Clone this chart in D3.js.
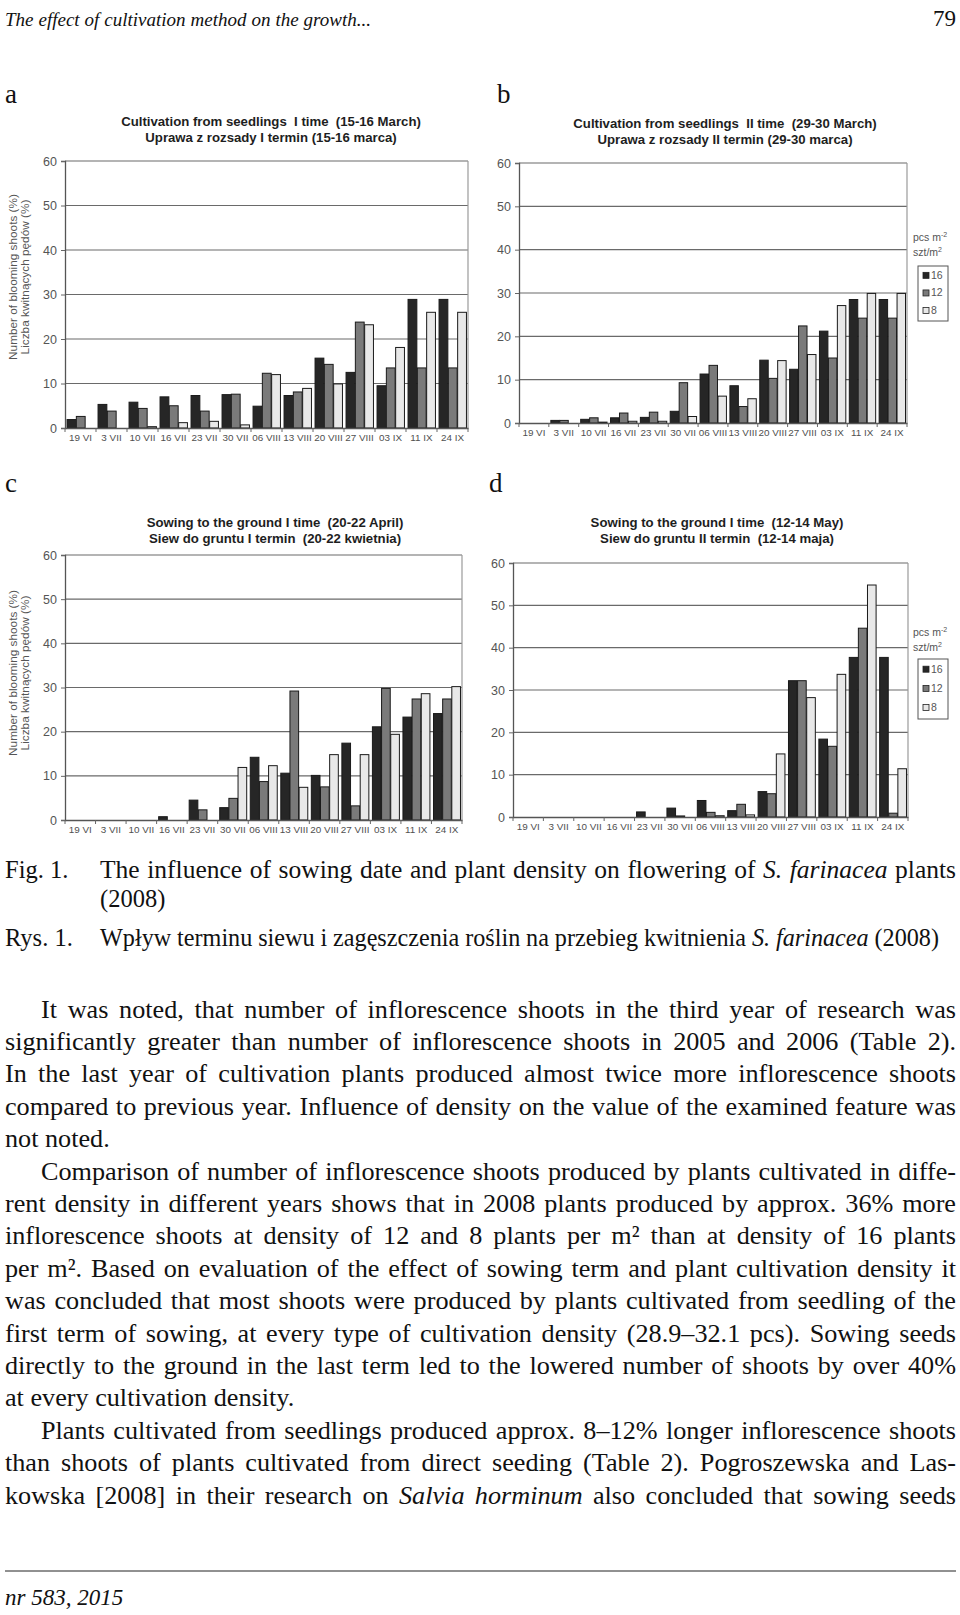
<!DOCTYPE html>
<html><head><meta charset="utf-8">
<script src="https://cdn.jsdelivr.net/npm/d3@7/dist/d3.min.js"></script>
<style>body{margin:0;background:#fff}</style>
</head><body><svg id="page" width="960" height="1615"></svg>
<script>
// ---------- DATA ----------
const dates = ["19 VI","3 VII","10 VII","16 VII","23 VII","30 VII","06 VIII","13 VIII","20 VIII","27 VIII","03 IX","11 IX","24 IX"];
const densities = ["16","12","8"];
const yTicks = [0,10,20,30,40,50,60];

const aD16 = [1.9,5.3,5.8,7.0,7.3,7.5,4.9,7.3,15.7,12.5,9.5,28.9,28.9];
const aD12 = [2.6,3.8,4.4,5.0,3.8,7.6,12.3,8.1,14.3,23.8,13.5,13.5,13.5];
const aD8  = [0,0,0.3,1.2,1.5,0.7,12.0,8.9,9.9,23.2,18.1,26.0,26.0];

const bD16 = [0,0.6,0.85,1.2,1.3,2.7,11.3,8.6,14.5,12.4,21.2,28.5,28.5];
const bD12 = [0,0.6,1.2,2.3,2.5,9.3,13.3,3.8,10.3,22.4,15.0,24.2,24.2];
const bD8  = [0,0,0.2,0.4,0.4,1.5,6.2,5.6,14.4,15.8,27.1,29.9,29.9];

const cD16 = [0,0,0,0.75,4.5,2.8,14.2,10.6,10.1,17.4,21.1,23.3,24.1];
const cD12 = [0,0,0,0,2.3,4.9,8.7,29.2,7.5,3.2,29.8,27.4,27.4];
const cD8  = [0,0,0,0,0,11.9,12.3,7.4,14.8,14.8,19.4,28.6,30.2];

const dD16 = [0,0,0,0,1.2,2.1,3.9,1.5,6.0,32.2,18.4,37.7,37.7];
const dD12 = [0,0,0,0,0,0.25,1.1,3.0,5.5,32.2,16.7,44.6,0.9];
const dD8  = [0,0,0,0,0,0,0.3,0.5,14.9,28.2,33.7,54.8,11.4];

const titleA = ["Cultivation from seedlings  I time  (15-16 March)","Uprawa z rozsady I termin (15-16 marca)"];
const titleB = ["Cultivation from seedlings  II time  (29-30 March)","Uprawa z rozsady II termin (29-30 marca)"];
const titleC = ["Sowing to the ground I time  (20-22 April)","Siew do gruntu I termin  (20-22 kwietnia)"];
const titleD = ["Sowing to the ground I time  (12-14 May)","Siew do gruntu II termin  (12-14 maja)"];
const yTitle = ["Number of blooming shoots (%)","Liczba kwitnących pędów (%)"];

const headerText = "The effect of cultivation method on the growth...";
const pageNo = "79";
const footerText = "nr 583, 2015";

const bodyLines = [
 {x:41, t:"It was noted, that number of inflorescence shoots in the third year of research was"},
 {x:5, t:"significantly greater than number of inflorescence shoots in 2005 and 2006 (Table 2)."},
 {x:5, t:"In the last year of cultivation plants produced almost twice more inflorescence shoots"},
 {x:5, t:"compared to previous year. Influence of density on the value of the examined feature was"},
 {x:5, t:"not noted.", last:true},
 {x:41, t:"Comparison of number of inflorescence shoots produced by plants cultivated in diffe-"},
 {x:5, t:"rent density in different years shows that in 2008 plants produced by approx. 36% more"},
 {x:5, t:"inflorescence shoots at density of 12 and 8 plants per m² than at density of 16 plants"},
 {x:5, t:"per m². Based on evaluation of the effect of sowing term and plant cultivation density it"},
 {x:5, t:"was concluded that most shoots were produced by plants cultivated from seedling of the"},
 {x:5, t:"first term of sowing, at every type of cultivation density (28.9–32.1 pcs). Sowing seeds"},
 {x:5, t:"directly to the ground in the last term led to the lowered number of shoots by over 40%"},
 {x:5, t:"at every cultivation density.", last:true},
 {x:41, t:"Plants cultivated from seedlings produced approx. 8–12% longer inflorescence shoots"},
 {x:5, t:"than shoots of plants cultivated from direct seeding (Table 2). Pogroszewska and Las-"},
 {x:5, t:"kowska [2008] in their research on |Salvia horminum| also concluded that sowing seeds"}
];

// ---------- DRAW ----------
const svg = d3.select("#page");
svg.append("rect").attr("width",960).attr("height",1615).attr("fill","#fff");
const sans = "Liberation Sans, Arial, sans-serif";
const serif = "Liberation Serif, Times New Roman, serif";
const fills = ["#262626","#7a7a7a","#e8e8e8"];

// text with italic segments ('|' toggles); justified to `end` via word-spacing
function richText(parent, x, y, str, size, end, italicBase){
  const t = parent.append("text").attr("x",x).attr("y",y)
    .attr("font-family",serif).attr("font-size",size).attr("fill","#111");
  str.split("|").forEach((s,i)=>{
    const it = italicBase ? (i%2===0) : (i%2===1);
    t.append("tspan").attr("font-style", it?"italic":"normal").text(s);
  });
  if(end){
    const w = t.node().getComputedTextLength();
    const spaces = (str.match(/ /g)||[]).length;
    if(spaces>0) t.attr("word-spacing", (end - x - w)/spaces);
  }
  return t;
}

function drawChart(cfg){
  const g = svg.append("g");
  const x = d3.scaleBand().domain(dates).range([cfg.x0,cfg.x1]).paddingInner(0.1).paddingOuter(0.05);
  const xi = d3.scaleBand().domain(densities).range([0,x.bandwidth()]);
  const y = d3.scaleLinear().domain([0,60]).range([cfg.yb,cfg.yt]);

  g.append("g").selectAll("line").data(yTicks.filter(v=>v>0)).join("line")
    .attr("x1",cfg.x0).attr("x2",cfg.x1).attr("y1",d=>y(d)).attr("y2",d=>y(d))
    .attr("stroke","#6a6a6a").attr("stroke-width",1.2);
  g.append("line").attr("x1",cfg.x1).attr("x2",cfg.x1).attr("y1",y(60)).attr("y2",y(0))
    .attr("stroke","#9a9a9a").attr("stroke-width",1.2);

  const series = [cfg.s16,cfg.s12,cfg.s8];
  densities.forEach((dn,si)=>{
    g.append("g").selectAll("rect").data(series[si]).join("rect")
      .attr("x",(v,i)=>x(dates[i])+xi(dn)+0.5).attr("width",xi.bandwidth()-0.5)
      .attr("y",v=>y(v)).attr("height",v=>y(0)-y(v))
      .attr("fill",fills[si]).attr("stroke","#1a1a1a").attr("stroke-width",1)
      .attr("display",v=>v>0?null:"none");
  });

  const ya = g.append("g").attr("transform",`translate(${cfg.x0},0)`)
    .call(d3.axisLeft(y).tickValues(yTicks).tickSize(4).tickPadding(4));
  ya.select(".domain").attr("stroke","#555").attr("stroke-width",1.3);
  ya.selectAll(".tick line").attr("stroke","#666");
  ya.selectAll("text").attr("font-family",sans).attr("font-size",12.5).attr("fill","#555");

  const xa = g.append("g").attr("transform",`translate(0,${cfg.yb})`)
    .call(d3.axisBottom(x).tickSize(0).tickPadding(6));
  xa.select(".domain").attr("stroke","#555").attr("stroke-width",1.3);
  xa.selectAll("text").attr("font-family",sans).attr("font-size",9.9).attr("fill","#505050");
  const step = x.step();
  const bounds = dates.map(d=>x(d)-step*x.paddingInner()/2).concat([cfg.x1]);
  g.append("g").selectAll("line").data(bounds).join("line")
    .attr("x1",d=>d).attr("x2",d=>d).attr("y1",cfg.yb).attr("y2",cfg.yb+4)
    .attr("stroke","#666");

  cfg.title.forEach((s,i)=>{
    g.append("text").attr("x",cfg.tcx).attr("y",cfg.ty + i*15.5).attr("text-anchor","middle")
      .attr("font-family",sans).attr("font-weight","bold").attr("font-size",13.2)
      .attr("fill","#1e1e1e").style("white-space","pre").text(s);
  });

  if(cfg.ytitle){
    yTitle.forEach((s,i)=>{
      g.append("text").attr("transform",`translate(${17+i*11.5},${cfg.ytitleY}) rotate(-90)`)
        .attr("text-anchor","middle").attr("font-family",sans).attr("font-size",11.8)
        .attr("fill","#555").text(s);
    });
  }

  if(cfg.legend){
    const L = cfg.legend;
    const u1 = g.append("text").attr("x",L.x-5).attr("y",L.y).attr("font-family",sans)
      .attr("font-size",10.5).attr("fill","#555");
    u1.append("tspan").text("pcs m");
    u1.append("tspan").attr("dy",-4).attr("font-size",7).text("-2");
    const u2 = g.append("text").attr("x",L.x-5).attr("y",L.y+15).attr("font-family",sans)
      .attr("font-size",10.5).attr("fill","#555");
    u2.append("tspan").text("szt/m");
    u2.append("tspan").attr("dy",-4).attr("font-size",7).text("2");
    g.append("rect").attr("x",L.x).attr("y",L.by).attr("width",30).attr("height",L.bh)
      .attr("fill","#fff").attr("stroke","#555").attr("stroke-width",1);
    densities.forEach((dn,i)=>{
      const cy = L.by + L.bh*(0.17 + i*0.32);
      g.append("rect").attr("x",L.x+5).attr("y",cy-3).attr("width",6).attr("height",6)
        .attr("fill",fills[i]).attr("stroke","#222").attr("stroke-width",0.8);
      g.append("text").attr("x",L.x+13).attr("y",cy+3.5).attr("font-family",sans)
        .attr("font-size",10.5).attr("fill","#555").text(dn);
    });
  }
}

drawChart({x0:65,x1:468,yt:161,yb:428,s16:aD16,s12:aD12,s8:aD8,title:titleA,tcx:271,ty:126,ytitle:true,ytitleY:277});
drawChart({x0:519,x1:907,yt:163,yb:423,s16:bD16,s12:bD12,s8:bD8,title:titleB,tcx:725,ty:128,
  legend:{x:918,y:241,by:266,bh:55}});
drawChart({x0:65,x1:462,yt:555,yb:820,s16:cD16,s12:cD12,s8:cD8,title:titleC,tcx:275,ty:527,ytitle:true,ytitleY:673});
drawChart({x0:513,x1:908,yt:563,yb:817,s16:dD16,s12:dD12,s8:dD8,title:titleD,tcx:717,ty:527,
  legend:{x:918,y:636,by:659,bh:60}});

[["a",5,103],["b",497,103],["c",5,492],["d",489,492]].forEach(([s,x,y])=>{
  svg.append("text").attr("x",x).attr("y",y).attr("font-family",serif).attr("font-size",27)
    .attr("fill","#111").text(s);
});

// header / footer
richText(svg,5,26,headerText,19,371,true);
svg.append("text").attr("x",956).attr("y",26).attr("text-anchor","end").attr("font-family",serif)
  .attr("font-size",23).attr("fill","#111").text(pageNo);
svg.append("line").attr("x1",5).attr("x2",956).attr("y1",1571).attr("y2",1571).attr("stroke","#222").attr("stroke-width",1);
richText(svg,5,1605,footerText,23,null,true);

// caption
richText(svg,5,878,"Fig. 1.",24.5,null,false);
richText(svg,100,878,"The influence of sowing date and plant density on flowering of |S. farinacea| plants",25.5,956,false);
richText(svg,100,907,"(2008)",24.5,null,false);
richText(svg,5,946,"Rys. 1.",24.5,null,false);
richText(svg,100,946,"Wpływ terminu siewu i zagęszczenia roślin na przebieg kwitnienia |S. farinacea| (2008)",24.2,939,false);

// body
bodyLines.forEach((l,i)=>{
  const y = 1017.5 + i*32.41;
  richText(svg,l.x,y,l.t,26.2,l.last?null:956,false);
});
</script></body></html>
